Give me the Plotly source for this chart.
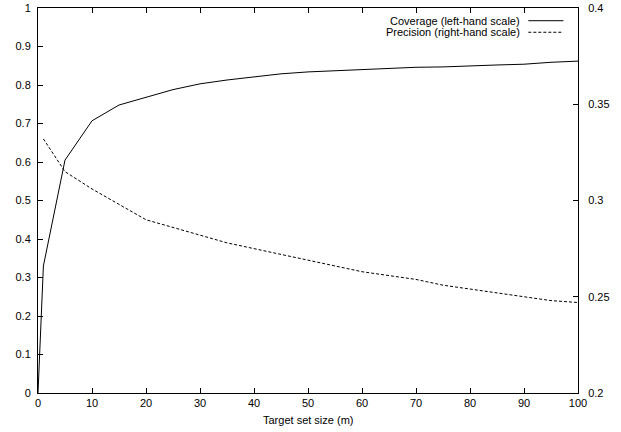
import plotly.graph_objects as go

cov_x = [0, 1, 5, 10, 15, 20, 25, 30, 35, 40, 45, 50, 55, 60, 65, 70, 75, 80, 85, 90, 95, 100]
cov_y = [0.0, 0.33, 0.605, 0.707, 0.748, 0.768, 0.788, 0.803, 0.813, 0.821, 0.829, 0.834,
         0.837, 0.840, 0.843, 0.846, 0.847, 0.850, 0.852, 0.854, 0.859, 0.862]
prec_x = [1, 5, 10, 15, 20, 25, 30, 35, 40, 45, 50, 55, 60, 65, 70, 75, 80, 85, 90, 95, 100]
prec_y = [0.332, 0.315, 0.306, 0.298, 0.290, 0.286, 0.282, 0.278, 0.275, 0.272, 0.269,
          0.266, 0.263, 0.261, 0.259, 0.256, 0.254, 0.252, 0.250, 0.248, 0.247]
legend_labels = ["Coverage (left-hand scale)", "Precision (right-hand scale)"]
x_title = "Target set size (m)"

FONT = "Liberation Sans, Arial, Helvetica, sans-serif"

fig = go.Figure()
fig.add_trace(go.Scatter(x=cov_x, y=cov_y, mode="lines", name=legend_labels[0],
                         line=dict(color="black", width=1), yaxis="y"))
fig.add_trace(go.Scatter(x=prec_x, y=prec_y, mode="lines", name=legend_labels[1],
                         line=dict(color="black", width=1, dash="3px,2px"), yaxis="y2"))

axis_common = dict(showgrid=False, zeroline=False, showline=True, linecolor="black",
                   linewidth=1, ticks="inside", ticklen=5, tickcolor="black",
                   automargin=False,
                   tickfont=dict(family=FONT, size=11, color="black"))

fig.update_layout(
    width=621, height=432,
    margin=dict(l=38, r=43, t=8, b=39, autoexpand=False),
    paper_bgcolor="white", plot_bgcolor="white",
    showlegend=False,
    font=dict(family=FONT, size=11, color="black"),
    xaxis=dict(range=[0, 100], dtick=10, mirror="ticks", ticklabelstandoff=0,
               **axis_common),
    yaxis=dict(range=[0, 1], dtick=0.1, ticklabelstandoff=4, **axis_common),
    yaxis2=dict(range=[0.2, 0.4], dtick=0.05, overlaying="y", side="right",
                ticklabelstandoff=7, **axis_common),
)

fig.add_annotation(text=x_title, xref="paper", yref="paper", x=0.5, y=-0.07,
                   xanchor="center", yanchor="middle", showarrow=False,
                   font=dict(family=FONT, size=11, color="black"))

# Legend (gnuplot-style: right-aligned text, line sample on the right)
leg_y = [0.967, 0.937]
for i, (lab, dash) in enumerate(zip(legend_labels, ["solid", "3px,2px"])):
    fig.add_annotation(text=lab, xref="paper", yref="paper", x=0.897, y=leg_y[i],
                       xanchor="right", yanchor="middle", showarrow=False,
                       font=dict(family=FONT, size=11, color="black"))
    fig.add_shape(type="line", xref="paper", yref="paper", x0=0.908, x1=0.973,
                  y0=leg_y[i], y1=leg_y[i], line=dict(color="black", width=1, dash=dash))

fig.write_html("out.html", config={"displayModeBar": False},
               post_script="document.body.style.margin='0';document.body.style.overflow='hidden';")
